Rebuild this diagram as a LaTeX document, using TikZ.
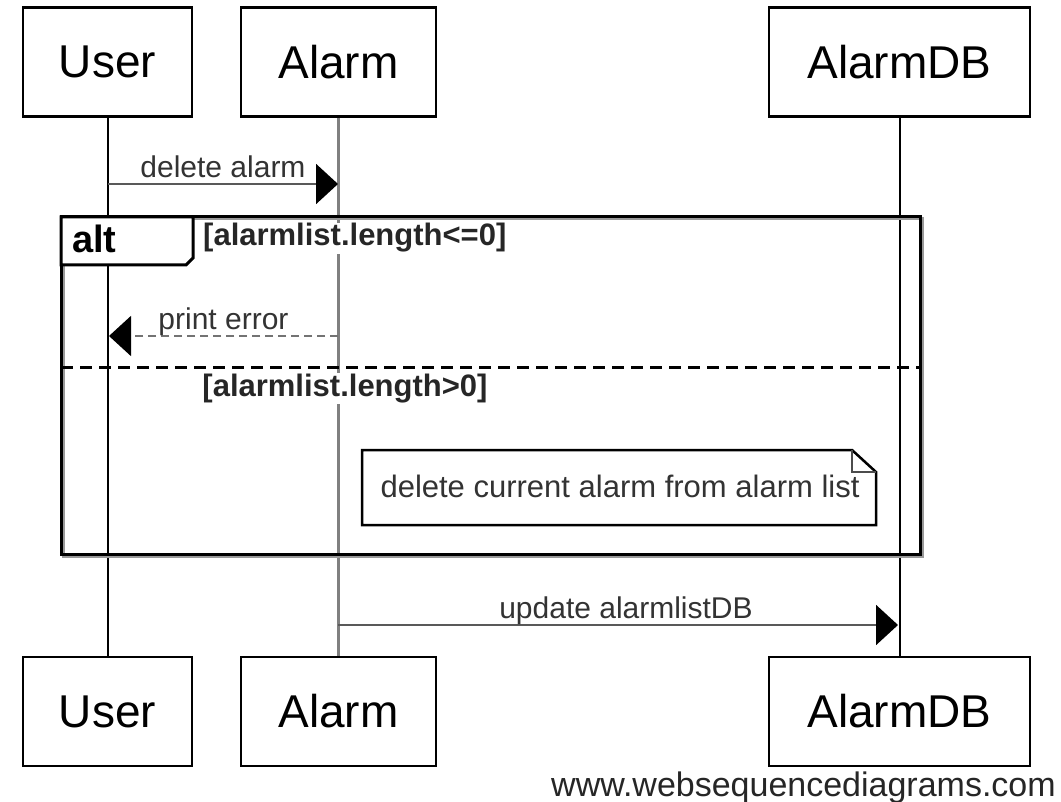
\documentclass[tikz,border=0pt]{standalone}
\usepackage{fontspec}
\setmainfont{Liberation Sans}
\usetikzlibrary{arrows.meta}
\tikzset{
  actor/.style={draw=black, line width=2.5pt, fill=white, minimum height=109pt, inner sep=0pt, font=\fontsize{46}{46}\selectfont},
  lifeblack/.style={draw=black, line width=2pt},
  lifegray/.style={draw=black!50, line width=2.5pt},
  msgtext/.style={font=\fontsize{30}{30}\selectfont, inner sep=0pt, text=black!80},
  guardtext/.style={font=\fontsize{31}{31}\selectfont\bfseries, inner sep=1pt, fill=white, text=black!85},
  syncmsg/.style={draw=black!65, line width=2pt, -{Triangle[length=22pt,width=40pt,color=black]}},
  replymsg/.style={draw=black!55, line width=1.5pt, dash pattern=on 8pt off 5pt, -{Triangle[length=22pt,width=40pt,color=black]}},
  framebox/.style={draw=black, line width=3pt},
  frameshadow/.style={draw=black!40, line width=3pt},
  notebox/.style={draw=black, line width=2.5pt, fill=white}
}
\begin{document}
\begin{tikzpicture}[x=1pt,y=-1pt]
\useasboundingbox[fill=white] (0,0) rectangle (1061,802);

% actors
\node[actor, minimum width=169pt] (ut) at (107.5,62) {User};
\node[actor, minimum width=195pt] (at) at (338.5,62) {Alarm};
\node[actor, minimum width=261pt] (dt) at (899.5,62) {AlarmDB};
\node[actor, minimum width=169pt] (ub) at (107.5,711.5) {User};
\node[actor, minimum width=195pt] (ab) at (338.5,711.5) {Alarm};
\node[actor, minimum width=261pt] (db) at (899.5,711.5) {AlarmDB};

% lifelines
\draw[lifeblack] (ut.south) -- (ub.north);
\draw[lifegray] (at.south) -- (ab.north);
\draw[lifeblack] (dt.south) -- (db.north);

% frame shadow and frame
\draw[frameshadow] (63,219) rectangle (922,556);
\draw[framebox] (61,217) rectangle (920,554);
\draw[framebox, fill=white] (61,217) -- (193,217) -- (193,258) -- (186,265) -- (61,265) -- cycle;
\node[font=\fontsize{38}{38}\selectfont\bfseries, anchor=base west, inner sep=0pt] (altlbl) at (72,253) {alt};
\draw[framebox, dash pattern=on 12pt off 7pt] (61,368) -- (920,368);

% guards
\node[guardtext, anchor=base west] (g1) at (202,246) {[alarmlist.length<=0]};
\node[guardtext, anchor=base] (g2) at (345,396) {[alarmlist.length>0]};

% messages
\coordinate (m1a) at (108,184);
\coordinate (m1b) at (338,184);
\draw[syncmsg] (m1a) -- node[msgtext, anchor=base, yshift=6pt] {delete alarm} (m1b);

\coordinate (m2a) at (338,336);
\coordinate (m2b) at (109,336);
\draw[replymsg] (m2a) -- node[msgtext, anchor=base, yshift=6pt] {print error} (m2b);

\coordinate (m3a) at (338,625);
\coordinate (m3b) at (898,625);
\draw[syncmsg] (m3a) -- node[msgtext, anchor=base, yshift=7pt, xshift=8pt] {update alarmlistDB} (m3b);

% note
\draw[notebox] (362,450) -- (852,450) -- (876,472) -- (876,525) -- (362,525) -- cycle;
\draw[draw=black!70, line width=2pt] (852,450) -- (852,472) -- (876,472);
\node[msgtext, font=\fontsize{31}{31}\selectfont, anchor=base] (note) at (620,497) {delete current alarm from alarm list};

% watermark
\node[font=\fontsize{34}{34}\selectfont, anchor=base east, inner sep=0pt, text=black!85] (wm) at (1056,796) {www.websequencediagrams.com};
\end{tikzpicture}
\end{document}
